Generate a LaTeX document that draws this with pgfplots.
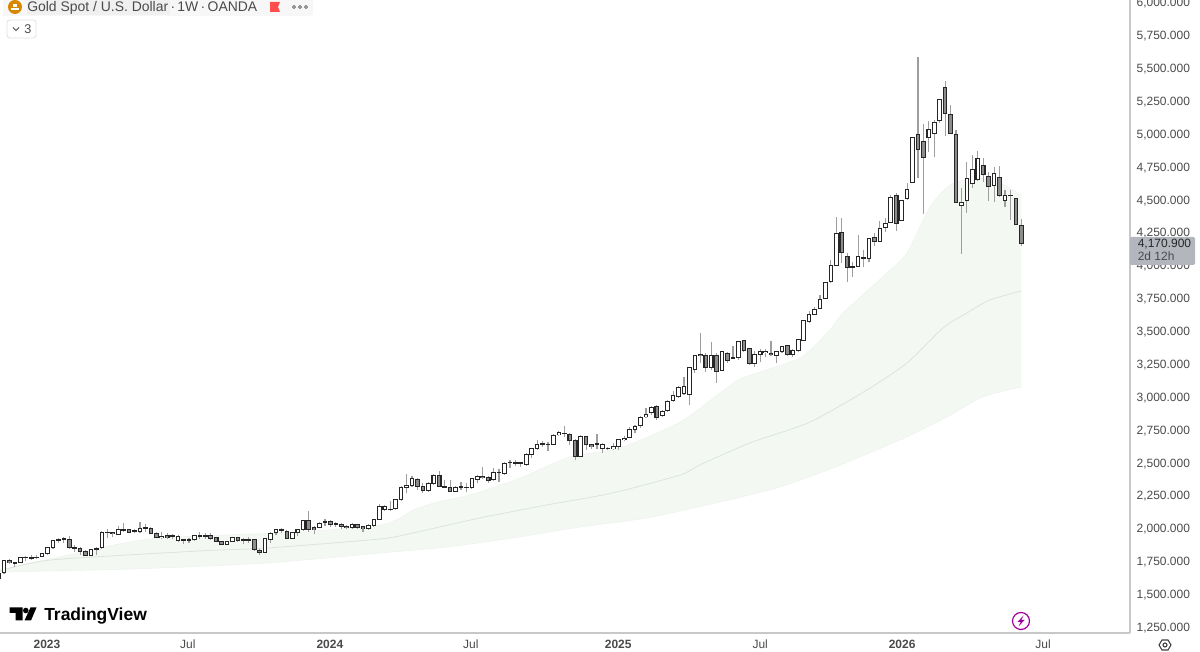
\documentclass[border=0pt]{standalone}
\usepackage{pgfplots}
\usepackage{pgfplotstable}
\usepackage{fontspec}
\pgfplotsset{compat=1.18}
\usepgfplotslibrary{fillbetween}
\setmainfont{Liberation Sans}
\definecolor{band}{HTML}{F3F8F3}
\definecolor{mid}{HTML}{DCE4DC}
\definecolor{edge}{HTML}{EEF3EE}
\definecolor{wick}{HTML}{9E9E9E}
\definecolor{dn}{HTML}{8C8C8C}
\definecolor{body}{HTML}{262626}
\definecolor{axisc}{HTML}{C8C8C8}
\definecolor{txt}{HTML}{4A4A4A}
\definecolor{pricebox}{HTML}{B4B6BE}
\pgfplotstableread{
i top bot high low
0 1666 1628 1679 1620
1 1762 1674 1768 1661
3 1745 1740 1750 1717
4 1788 1747 1793 1742
5 1790 1785 1800 1762
6 1788 1783 1806 1768
7 1790 1785 1806 1773
8 1813 1793 1823 1788
9 1859 1818 1864 1808
10 1912 1861 1920 1854
11 1925 1920 1937 1894
12 1927 1922 1940 1899
17 1849 1803 1854 1798
19 1980 1859 1986 1854
20 1980 1975 2006 1932
22 1998 1963 2026 1955
23 1998 1993 2046 1978
25 1991 1986 2006 1970
26 2008 1983 2059 1973
27 2013 2006 2039 1980
30 1945 1937 1983 1927
32 1953 1948 1965 1925
33 1948 1915 1955 1907
34 1920 1915 1930 1889
35 1922 1917 1937 1894
36 1950 1925 1958 1915
37 1953 1948 1980 1925
38 1953 1948 1975 1930
42 1907 1884 1912 1879
43 1935 1910 1942 1902
45 1920 1915 1937 1889
46 1922 1917 1940 1899
49 1927 1826 1932 1818
50 1970 1925 1980 1899
51 1998 1978 2006 1958
54 1973 1930 1983 1925
55 1996 1975 2006 1950
56 2064 1996 2069 1991
59 2046 2016 2057 2008
62 2046 2041 2054 2016
65 2036 2011 2046 2001
68 2029 2006 2039 1998
69 2077 2031 2082 2021
70 2173 2077 2191 2072
71 2171 2150 2186 2140
73 2224 2158 2229 2150
74 2322 2224 2327 2216
75 2335 2320 2421 2274
76 2386 2335 2406 2320
79 2350 2294 2363 2287
80 2409 2350 2421 2340
84 2322 2287 2330 2282
85 2325 2320 2363 2300
86 2322 2317 2350 2287
87 2386 2315 2391 2310
88 2406 2383 2414 2350
91 2436 2381 2464 2368
92 2436 2431 2457 2363
93 2502 2424 2510 2416
94 2512 2507 2528 2464
95 2505 2500 2528 2485
96 2505 2500 2515 2477
97 2571 2490 2578 2482
98 2614 2571 2621 2540
99 2649 2614 2680 2604
100 2654 2649 2675 2624
101 2649 2644 2662 2599
102 2713 2644 2723 2639
103 2738 2718 2748 2710
104 2733 2728 2786 2705
107 2708 2558 2715 2553
110 2652 2647 2723 2614
111 2644 2614 2654 2578
112 2619 2614 2629 2604
113 2629 2614 2654 2604
114 2680 2634 2685 2604
115 2695 2685 2710 2675
116 2761 2700 2776 2692
117 2786 2756 2794 2736
118 2852 2791 2862 2769
119 2875 2857 2921 2845
120 2928 2888 2938 2870
122 2898 2867 2908 2857
123 2971 2903 2984 2895
124 3020 2980 3056 2972
125 3078 3010 3091 3002
126 3086 3030 3162 3023
127 3233 3025 3238 2947
128 3319 3213 3327 3187
131 3319 3230 3423 3213
133 3350 3208 3355 3203
135 3307 3302 3395 3294
136 3428 3309 3436 3289
139 3329 3263 3360 3238
140 3350 3332 3370 3276
141 3355 3347 3370 3314
143 3355 3324 3360 3263
144 3390 3352 3395 3340
146 3362 3327 3370 3314
147 3441 3357 3446 3350
148 3585 3436 3593 3431
149 3638 3583 3664 3573
150 3674 3638 3694 3628
151 3750 3682 3780 3674
152 3879 3758 3884 3750
153 4009 3884 4049 3877
154 4247 4009 4374 4003
158 4077 3998 4239 3993
159 4069 4062 4125 3993
160 4209 4059 4214 4036
162 4292 4189 4348 4183
163 4328 4295 4371 4265
164 4526 4333 4543 4328
166 4500 4348 4505 4343
167 4586 4513 4632 4508
168 4977 4642 4982 4637
171 5038 4982 5109 4873
172 5098 5012 5114 4835
173 5266 5109 5271 5093
177 4485 4465 4594 4095
178 4667 4505 4797 4409
179 4738 4632 4845 4596
180 4820 4662 4880 4652
183 4706 4617 4759 4493
185 4536 4500 4581 4450
186 4543 4538 4581 4353
}\upT
\pgfplotstableread{
i top bot high low
2 1762 1745 1773 1737
13 1920 1861 1953 1854
14 1861 1856 1879 1831
15 1856 1831 1864 1806
16 1833 1803 1844 1798
18 1856 1849 1866 1806
21 1973 1965 1983 1945
24 1996 1978 2001 1970
28 2003 1970 2016 1965
29 1970 1940 1978 1935
31 1950 1940 1975 1925
39 1953 1932 1970 1920
40 1935 1907 1945 1902
41 1907 1884 1912 1879
44 1935 1917 1942 1907
47 1920 1844 1927 1836
48 1839 1826 1849 1803
52 1998 1991 2008 1975
53 1986 1930 1993 1925
57 2064 1996 2143 1983
58 2013 1998 2026 1965
60 2057 2051 2079 2026
61 2057 2036 2072 2021
63 2041 2021 2051 2006
64 2024 2011 2034 2006
66 2036 2016 2044 2001
67 2019 2008 2026 1978
72 2155 2148 2219 2143
77 2383 2330 2388 2300
78 2330 2294 2350 2279
81 2409 2325 2444 2320
82 2327 2320 2376 2312
83 2322 2287 2376 2282
89 2401 2393 2477 2381
90 2393 2373 2406 2350
105 2723 2677 2730 2642
106 2675 2553 2685 2528
108 2705 2644 2710 2604
109 2642 2627 2649 2611
121 2933 2852 2946 2832
129 3327 3319 3497 3263
130 3319 3230 3345 3200
132 3319 3198 3340 3116
134 3340 3284 3350 3269
137 3436 3360 3441 3352
138 3378 3263 3383 3251
142 3340 3332 3436 3319
145 3395 3327 3400 3319
155 4259 4105 4371 4024
156 4077 3993 4100 3882
157 3998 3991 4036 3922
161 4221 4186 4252 4158
165 4536 4323 4556 4270
169 5005 4891 5595 4670
170 4954 4825 5083 4399
174 5360 5164 5410 4992
175 5159 5012 5228 5007
176 5005 4490 5038 4485
181 4764 4700 4822 4645
182 4685 4607 4721 4500
184 4675 4536 4764 4525
187 4513 4320 4518 4313
188 4313 4171 4358 4158
}\downT
% wick: mid +- half range
\newcommand\wicks[1]{%
\addplot[draw=none,no markers,forget plot,error bars/.cd,y dir=both,y explicit,error mark=none,
  error bar style={draw=wick,line width=0.85pt}]
  table[x=i,y expr={(\thisrow{high}+\thisrow{low})/2},
    y error plus expr={(\thisrow{high}-\thisrow{low})/2},
    y error minus expr={(\thisrow{high}-\thisrow{low})/2}] {#1};}
\newcommand\bodies[2]{%
\addplot[draw=none,no markers,forget plot,error bars/.cd,y dir=both,y explicit,error mark=none,
  error bar style={draw=body,line width=3.5pt}]
  table[x=i,y expr={(\thisrow{top}+\thisrow{bot})/2},
    y error plus expr={(\thisrow{top}-\thisrow{bot})/2+3.8},
    y error minus expr={(\thisrow{top}-\thisrow{bot})/2+3.8}] {#1};
\addplot[draw=none,no markers,forget plot,error bars/.cd,y dir=both,y explicit,error mark=none,
  error bar style={draw=#2,line width=1.9pt}]
  table[x=i,y expr={(\thisrow{top}+\thisrow{bot})/2},
    y error plus expr={max((\thisrow{top}-\thisrow{bot})/2-3.8,0)},
    y error minus expr={max((\thisrow{top}-\thisrow{bot})/2-3.8,0)}] {#1};}
\begin{document}
\begin{tikzpicture}
\begin{axis}[
  at={(0,0)},anchor=south west,
  scale only axis,width=847.5pt,height=474.75pt,
  xmin=0.2647,xmax=207.98,ymin=1212,ymax=6026.6,
  axis x line*=bottom,axis y line*=right,
  axis line style={draw=axisc,line width=1pt,-},
  tick style={draw=none},
  xtick={8.9,34.8,60.9,86.8,113.9,140,166.1,192},
  xticklabels={\textbf{2023},Jul,\textbf{2024},Jul,\textbf{2025},Jul,\textbf{2026},Jul},
  ytick={1250,1500,...,6000},
  scaled y ticks=false,
  tick label style={font=\fontsize{9}{10}\selectfont,text=txt},
  xticklabel style={anchor=base,yshift=-12pt},
  yticklabel style={anchor=east,xshift=48.5pt,
    /pgf/number format/.cd,fixed,fixed zerofill,precision=3,1000 sep={,},assume math mode=true},
]
\addplot[name path=upper,draw=edge,line width=0.4pt,forget plot,smooth,tension=0.4] coordinates {
(0.26,1691)(9.5,1775)(27.8,1927)(55.4,1980)(70.1,2033)(73.8,2087)(76.2,2147)(80.6,2208)(86.7,2262)
(95.9,2391)(105,2551)(114.2,2619)(125.3,2817)(132.6,3037)(136.7,3151)(147.3,3304)(152.8,3517)
(155.2,3646)(163.3,3950)(167,4102)(171.2,4452)(174.9,4619)(179.5,4673)(184.1,4635)(188,4543)};
\addplot[name path=lower,draw=edge,line width=0.4pt,forget plot,smooth,tension=0.4] coordinates {
(0.26,1676)(24.7,1699)(49.3,1744)(70.1,1820)(82.4,1866)(94.6,1935)(106.9,2018)(119.2,2087)
(132.6,2208)(143.6,2322)(153.4,2467)(165.7,2680)(174.3,2855)(180.9,3007)(188,3083)};
\addplot[band,forget plot] fill between[of=upper and lower];
\addplot[mid,line width=0.6pt,forget plot,smooth,tension=0.4] coordinates {
(0.26,1684)(9.5,1767)(37,1836)(49.3,1858)(70.1,1927)(76.2,1973)(88.5,2087)(100.8,2186)(112.9,2277)
(125.3,2414)(128.9,2490)(138.1,2657)(149.2,2817)(159.6,3060)(167,3266)(173.6,3532)(178,3646)
(182.2,3745)(188,3813)};
\wicks{\upT}
\wicks{\downT}
\bodies{\upT}{white}
\bodies{\downT}{dn}
\end{axis}
\begin{scope}[x=0.75pt,y=-0.75pt,yshift=474.75pt]
  % price label
  \fill[pricebox,rounded corners=1pt] (1130,237) rectangle (1195,265);
  \node[anchor=base west,inner sep=0,text=black!85,font=\fontsize{9}{10}\selectfont] at (1137.5,248) {4,170.900};
  \node[anchor=base west,inner sep=0,text=txt,font=\fontsize{9}{10}\selectfont] at (1137.5,261) {2d 12h};
  % header
  \fill[black!3,rounded corners=2pt] (3,-2) rectangle (313,16);
  \fill[black!6] (27,0) rectangle (170,15);
  \fill[orange!75!yellow!85!black] (15,7) circle (7);
  \fill[white] (11,8) rectangle (19,10);
  \fill[white] (13,4.5) rectangle (17,6.8);
  \node[anchor=base west,inner sep=0,text=txt,font=\fontsize{10.45}{12}\selectfont] at (27,12) {Gold Spot / U.S. Dollar\,·\,1W\,·\,OANDA};
  \fill[red!70!white] (270,2) -- (280,2) -- (278,7) -- (280,12) -- (270,12) -- cycle;
  \foreach \x in {294,300,306} \draw[black!55,line width=0.7pt] (\x,7) circle (1.5);
  \draw[black!12,rounded corners=2pt,line width=0.6pt] (7,20) rectangle (36,38);
  \draw[txt,line width=0.6pt] (13,27.5) -- (16,30.5) -- (19,27.5);
  \node[anchor=base,inner sep=0,text=txt,font=\fontsize{9.5}{10}\selectfont] at (28,34) {3};
  % logo
  \fill[black] (9.5,607.5) -- (22.5,607.5) -- (22.5,620.5) -- (15.5,620.5) -- (15.5,613) -- (9.5,613) -- cycle;
  \fill[black] (25.8,610.5) circle (2.8);
  \fill[black] (30.5,607.5) -- (36.5,607.5) -- (31,620.5) -- (24.5,620.5) -- cycle;
  \node[anchor=base west,inner sep=0,text=black,font=\fontsize{13.1}{14}\selectfont\bfseries] at (44,620.5) {TradingView};
  % bolt
  \draw[violet!75!magenta,line width=0.9pt] (1021,621) circle (8.5);
  \fill[violet!75!magenta] (1023.5,615.5) -- (1017.5,622) -- (1020.7,622) -- (1018.5,626.5) -- (1024.5,620) -- (1021.3,620) -- cycle;
  % gear
  \draw[black!75,line width=0.8pt] (1171,645) -- (1168,650) -- (1162,650) -- (1159,645) -- (1162,640) -- (1168,640) -- cycle;
  \draw[black!75,line width=0.8pt] (1165,645) circle (2);
\end{scope}
\pgfresetboundingbox
\path[use as bounding box] (0,-14.25pt) rectangle (900pt,474.75pt);
\end{tikzpicture}
\end{document}
